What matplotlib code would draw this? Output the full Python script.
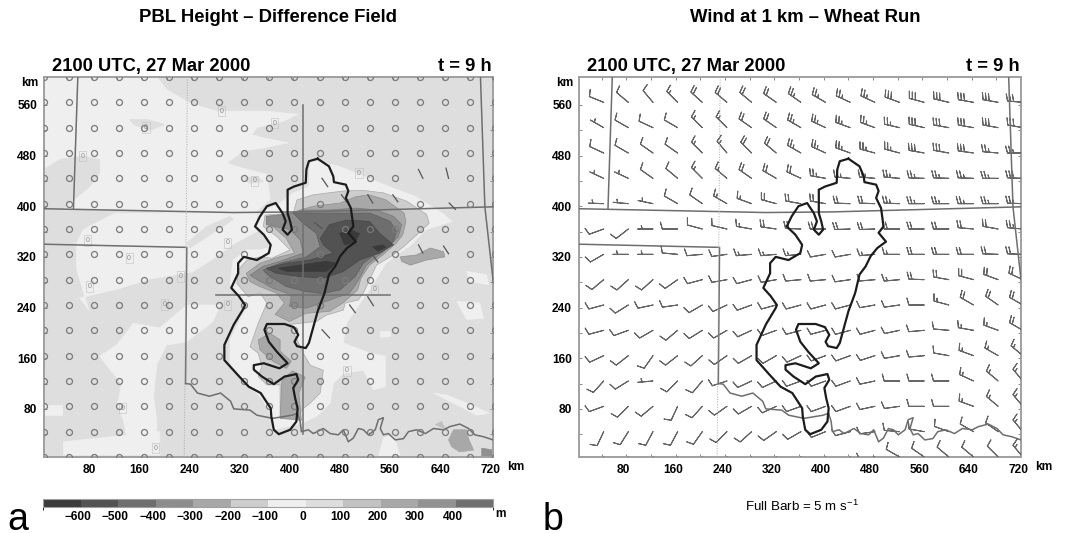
import numpy as np
import matplotlib
matplotlib.use("Agg")
import matplotlib.pyplot as plt
from matplotlib.colors import ListedColormap, BoundaryNorm
from matplotlib.cm import ScalarMappable
from matplotlib.patches import Polygon
from matplotlib.transforms import ScaledTranslation

plt.rcParams["font.family"] = ["Liberation Sans", "DejaVu Sans"]
plt.rcParams["mathtext.default"] = "regular"

W, H = 1069, 533

# map outlines, km
wheat = [(440,475),(458,463),(465,447),(466,438),(485,434),(489,424),(485,413),(493,397),(497,368),
         (489,358),(501,344),(487,334),(476,321),(468,305),(458,292),(451,263),(440,234),(426,184),
         (421,176),(407,179),(403,186),(409,197),(402,209),(387,214),(359,214),(355,205),(362,186),
         (375,170),(392,152),(379,144),(354,152),(338,149),(338,142),(351,131),(370,119),(387,131),
         (406,135),(409,126),(401,113),(404,97),(408,81),(406,60),(396,47),(378,40),(370,47),(366,68),
         (365,81),(349,105),(330,115),(312,134),(291,157),(291,181),(306,213),(322,239),(324,244),
         (314,258),(302,271),(313,294),(313,310),(322,320),(343,315),(362,326),(365,339),(354,355),
         (340,368),(348,384),(359,400),(373,405),(384,389),(389,376),(384,363),(392,355),(399,363),
         (396,376),(392,389),(392,426),(402,431),(421,437),(422,458),(426,471),(440,475)]
kansas_line = [(3,396),(306,390),(414,391),(720,399)]
colorado_line = [(57,604),(50,396)]
panhandle_line = [(3,340),(231,335),(229,120)]
red_river = [(229,120),(237,119),(248,105),(267,100),(285,105),(301,92),(306,80),(332,78),(343,70),
             (368,65),(399,70),(408,73),(412,60),(414,44),(425,47),(433,41),(449,49),(460,41),(473,39),
             (481,47),(489,28),(497,34),(505,49),(513,47),(521,39),(532,47),(537,63),(545,66),(540,49),
             (545,39),(553,41),(564,31),(577,33),(585,44),(598,47),(612,41),(625,49),(641,47),(651,52),
             (667,56),(681,49),(691,39),(705,36),(720,31)]
east_line = [(700,604),(707,399),(720,284)]
dotted_line = [(232,604),(227,4)]
a_vertical = [(416,560),(416,41)]
a_horizontal = [(278,260),(556,260)]

# shaded areas of the difference field: level colour -> outlines in km
light_areas = [
    [(3,604),(183,604),(199,584),(236,563),(279,550),(359,550),(409,545),(385,534),(343,524),(335,513),
     (353,508),(393,500),(353,492),(321,487),(295,468),(321,460),(359,450),(364,410),(343,392),(252,389),
     (119,393),(3,396)],
    [(116,389),(343,389),(343,360),(305,340),(270,315),(240,296),(172,285),(124,270),(60,255),(75,235),
     (55,300),(55,342),(66,363)],
    [(92,163),(119,181),(146,215),(188,208),(231,244),(284,244),(273,218),(231,186),(199,181),(183,150),
     (178,100),(183,62),(183,20),(135,35),(130,62),(120,85),(127,120),(110,140)],
    [(34,28),(188,44),(188,7),(34,7)],
    [(3,86),(31,86),(31,70),(3,70)],
    [(625,105),(646,102),(678,89),(715,73),(694,70),(667,84)],
    [(662,250),(699,247),(705,223),(678,221)],
    [(678,297),(710,292),(713,276),(683,281)],
    [(545,34),(561,39),(572,4),(537,4)],
    [(540,202),(556,202),(556,194),(540,193)],
    [(427,473),(475,463),(507,450),(554,431),(597,415),(639,389),(655,376),(613,363),(586,336),(570,326),
     (549,310),(536,289),(523,268),(508,247),(486,215),(481,184),(524,168),(548,163),(548,115),(529,110),
     (513,141),(481,136),(465,120),(460,89),(438,68),(414,57),(369,47),(369,62),(353,94),(332,115),
     (300,152),(300,189),(319,226),(329,244),(311,257),(300,278),(305,315),(327,331),(348,331),(369,336),
     (359,352),(345,368),(345,389),(380,405),(401,421),(427,431)],
]
gray_areas = [
    [(3,458),(29,474),(66,479),(92,474),(92,452),(76,431),(50,410),(34,396),(3,396)],
    [(140,537),(167,537),(196,529),(172,520),(146,529)],
    [(319,445),(343,447),(353,439),(332,436)],
    [(231,342),(263,368),(300,384),(305,379),(273,358),(236,334)],
]
level_100 = [[(407,410),(433,418),(481,424),(513,425),(545,421),(582,408),(614,387),(618,373),(604,360),
              (593,350),(577,336),(561,323),(534,307),(524,286),(513,263),(505,252),(484,247),(481,236),
              (454,228),(438,218),(393,213),(401,202),(417,168),(428,149),(449,141),(444,105),(428,89),
              (414,78),(412,65),(380,65),(380,99),(380,118),(359,118),(345,131),(351,147),(345,168),
              (332,178),(345,215),(359,247),(348,263),(329,257),(311,278),(313,299),(327,315),(348,320),
              (367,318),(396,331),(375,352),(353,368),(356,386),(401,389)]]
level_200 = [[(406,392),(433,400),(476,405),(501,415),(522,418),(549,410),(578,389),(581,376),(576,355),
              (565,341),(544,323),(523,307),(509,286),(504,268),(480,247),(459,234),(422,231),(395,218),
              (372,229),(387,247),(374,263),(374,263),(348,273),(332,281),(326,294),(348,310),(379,320),
              (403,326),(390,349),(374,363),(358,378)],
             [(345,189),(364,199),(380,189),(380,171),(398,155),(390,144),(369,155),(348,173)],
             [(380,65),(414,62),(410,105),(420,130),(400,140),(383,125)],
             [(572,320),(598,323),(620,334),(641,328),(643,320),(614,315),(588,307),(574,313)]]
level_300 = [[(358,384),(401,389),(414,394),(459,394),(501,397),(534,394),(561,384),(574,371),(569,352),
              (545,328),(518,307),(505,283),(491,263),(454,250),(422,239),(395,242),(398,257),(390,263),
              (369,270),(345,283),(332,291),(353,305),(380,313),(417,326),(412,347),(396,363),(358,371)]]
level_400 = [[(401,389),(481,389),(524,389),(556,376),(566,360),(561,344),(534,326),(513,310),(500,289),
              (476,268),(449,262),(422,265),(390,273),(361,291),(353,299),(380,310),(422,320),(444,336),
              (438,357),(417,373)]]
level_500 = [[(444,349),(459,371),(486,378),(523,376),(539,357),(561,339),(539,326),(507,315),(481,297),
              (449,286),(411,289),(374,294),(358,302),(390,310),(427,315),(465,326),(449,339)]]
level_600 = [[(475,357),(491,363),(507,357),(499,342),(483,339)],
             [(528,336),(544,339),(549,335),(536,329)],
             [(377,302),(411,307),(454,313),(470,310),(454,297),(422,297),(390,297)]]
se_spots = {"#a8a8a8": [[(649,31),(657,47),(678,47),(681,33),(689,15),(667,12),(654,20)]],
            "#bfbfbf": [[(628,55),(638,60),(643,49)]],
            "#909090": [[(702,18),(720,15),(720,4),(702,5)]]}

# colour scale
cbar_levels = [-700,-600,-500,-400,-300,-200,-100,0,100,200,300,400,500]
cbar_colors = ["#3a3a3a","#525252","#6e6e6e","#8c8c8c","#a8a8a8","#cdcdcd","#efefef",
               "#dedede","#c2c2c2","#a8a8a8","#929292","#6f6f6f"]
cbar_ticks = [-600,-500,-400,-300,-200,-100,0,100,200,300,400]

# panel a: calm grid (circles), with a few short staffs in the disturbed area
grid_x = [3 + 40*i for i in range(19)]
grid_y = [4 + 40*j for j in range(16)]
no_circle = {444:[11,12,15,16], 404:[9,10,12,13,14,16], 364:[11], 324:[9,10,12,13,15,16],
             244:[12,13], 204:[11]}
staffs = [(447,444,456,431),(478,418,487,406),(520,418,528,405),(560,418,568,407),(601,458,608,444),
          (645,460,649,444),(650,405,660,395),(435,374,447,365),(488,326,492,310),(528,323,536,312),
          (601,339,608,326),(641,337,649,325),(491,244,500,232),(520,257,529,243),(447,205,459,192)]
label_x = [287,371,166,65,339,506,73,139,296,221,76,195,296,531,487,128,181]
label_y = [550,531,524,479,440,452,346,318,342,289,273,245,244,268,140,81,18]

# panel b: wind barbs, rows from north to south
barb_y = [564,524,484,444,404,364,324,284,244,204,164,124,84,44,4]
barb_x = grid_x[1:]
speed = [
    [5,5,5,7.5,10,10,10,10,12.5,12.5,12.5,12.5,15,15,15,15,15,15],
    [2.5,5,5,5,7.5,7.5,10,10,12.5,12.5,12.5,12.5,12.5,15,15,15,15,15],
    [5,5,5,5,7.5,7.5,10,10,12.5,12.5,12.5,12.5,12.5,15,15,15,12.5,12.5],
    [2.5,2.5,5,5,7.5,7.5,10,10,10,12.5,12.5,12.5,12.5,12.5,12.5,12.5,12.5,15],
    [2.5,2.5,2.5,5,5,7.5,7.5,10,10,10,10,10,12.5,12.5,12.5,12.5,12.5,12.5],
    [5,5,2.5,5,5,5,7.5,10,10,10,10,10,10,10,10,10,10,12.5],
    [5,2.5,2.5,5,5,5,7.5,7.5,7.5,5,5,7.5,7.5,10,10,10,10,10],
    [5,5,5,5,5,5,5,5,5,5,5,5,7.5,10,10,10,10,10],
    [5,5,5,5,5,5,5,5,5,5,5,5,5,5,7.5,10,10,10],
    [5,5,5,5,5,5,5,5,5,5,5,5,5,5,5,7.5,7.5,10],
    [5,5,5,5,5,5,5,5,5,5,5,5,5,5,5,7.5,7.5,7.5],
    [5,5,2.5,5,5,5,5,5,5,5,5,5,5,5,5,7.5,7.5,7.5],
    [5,5,5,5,5,5,5,5,5,5,5,5,5,5,5,7.5,7.5,7.5],
    [5,5,5,5,5,5,5,5,5,5,5,5,5,5,5,5,5,7.5],
    [5,5,5,5,5,5,5,5,5,5,5,5,5,5,5,5,5,7.5],
]
direction = [
    [292,310,320,315,312,310,310,305,305,300,295,295,290,285,283,280,280,275],
    [300,300,295,300,315,315,305,305,300,295,290,290,283,283,280,280,280,280],
    [295,300,305,305,315,320,315,310,300,295,290,285,285,280,280,278,275,270],
    [295,295,305,310,315,310,305,300,295,280,275,275,275,272,272,272,270,272],
    [272,275,282,300,305,300,290,285,280,280,272,272,272,270,270,270,270,272],
    [250,232,270,270,285,283,280,278,272,270,268,268,270,270,270,275,280,275],
    [240,270,270,275,265,262,265,265,265,260,260,265,270,270,270,270,272,272],
    [230,228,228,235,255,260,255,260,265,265,262,265,265,272,280,285,290,295],
    [255,238,258,262,240,245,250,255,255,255,255,260,262,270,285,300,305,300],
    [255,250,240,230,238,240,245,250,255,255,255,255,258,265,275,280,290,300],
    [245,232,215,232,228,235,240,240,245,250,250,252,260,265,280,290,300,310],
    [222,238,265,225,220,252,245,245,250,250,250,258,270,270,270,295,310,320],
    [250,225,230,205,222,235,240,245,250,250,250,258,262,270,270,290,310,320],
    [205,212,208,208,215,225,228,235,240,248,255,262,275,280,290,300,305,320],
    [220,220,220,220,220,220,220,220,225,230,240,260,300,305,310,310,315,320],
]
x_ticks = [80,160,240,320,400,480,560,640,720]
y_ticks = [80,160,240,320,400,480,560]


def make_axes(left, right, top=77, bottom=457):
    ax = fig.add_axes([left/W, 1-bottom/H, (right-left)/W, (bottom-top)/H])
    ax.set_xlim(3, 720)
    ax.set_ylim(4, 604)
    ax.set_xticks(x_ticks)
    ax.set_yticks(y_ticks)
    ax.set_xticks(range(40, 720, 80), minor=True)
    ax.set_yticks(range(40, 600, 80), minor=True)
    ax.tick_params(which="both", direction="in", length=2, width=0.7, color="#888888",
                   top=True, right=True, labelsize=8.6, pad=5)
    shift = ScaledTranslation(-2/72, 0, fig.dpi_scale_trans)
    for t in ax.get_xticklabels():
        t.set_fontweight("bold")
        t.set_transform(t.get_transform() + shift)
    for t in ax.get_yticklabels():
        t.set_fontweight("bold")
    for s in ax.spines.values():
        s.set_color("#a0a0a0")
        s.set_linewidth(1.4)
    # km after the 720 label, on its line
    ax.annotate("km", xy=(1, 0), xycoords="axes fraction", xytext=(10, -7.5), textcoords="offset points",
                fontsize=8.6, fontweight="bold", va="center", ha="left", annotation_clip=False)
    ax.text(-0.013, 1.0, "km", transform=ax.transAxes, fontsize=8.6, fontweight="bold",
            va="top", ha="right")
    ax.text(0.018, 1.006, "2100 UTC, 27 Mar 2000", transform=ax.transAxes, fontsize=13.2,
            fontweight="bold", va="bottom")
    ax.text(0.997, 1.006, "t = 9 h", transform=ax.transAxes, fontsize=13.2,
            fontweight="bold", va="bottom", ha="right")
    return ax


def fill_areas(ax, areas, color, z, edge=None):
    for a in areas:
        ax.add_patch(Polygon(a, closed=True, fc=color, ec=edge or color, lw=0.5, zorder=z))


def line(ax, pts, **kw):
    xs, ys = zip(*pts)
    ax.plot(xs, ys, **kw)


def draw_map(ax):
    style = dict(color="#6e6e6e", lw=1.1, zorder=5)
    line(ax, kansas_line, **style)
    line(ax, colorado_line, **style)
    line(ax, panhandle_line, **style)
    line(ax, red_river, **style)
    line(ax, east_line, **style)
    line(ax, dotted_line, color="#aaaaaa", lw=0.7, ls=":", zorder=5)
    line(ax, wheat, color="#1c1c1c", lw=1.6, zorder=7, solid_joinstyle="round")


fig = plt.figure(figsize=(W/100, H/100), dpi=100)

# panel a
ax_a = make_axes(44, 493)
ax_a.set_facecolor("#dedede")
fill_areas(ax_a, light_areas, "#efefef", 1)
fill_areas(ax_a, gray_areas, "#dedede", 1.5)
fill_areas(ax_a, level_100, "#cdcdcd", 2, "#a9a9a9")
fill_areas(ax_a, level_200, "#a8a8a8", 2.2, "#8f8f8f")
fill_areas(ax_a, level_300, "#8c8c8c", 2.4, "#777777")
fill_areas(ax_a, level_400, "#6e6e6e", 2.6, "#5f5f5f")
fill_areas(ax_a, level_500, "#525252", 2.8, "#474747")
fill_areas(ax_a, level_600, "#3a3a3a", 3)
for c, areas in se_spots.items():
    fill_areas(ax_a, areas, c, 2)
draw_map(ax_a)
line(ax_a, a_vertical, color="#6e6e6e", lw=1.1, zorder=5)
line(ax_a, a_horizontal, color="#6e6e6e", lw=1.1, zorder=5)

cx, cy = [], []
for y in grid_y:
    skip = no_circle.get(y, [])
    for i, x in enumerate(grid_x):
        if i not in skip:
            cx.append(x)
            cy.append(y)
ax_a.plot(cx, cy, ls="none", marker="o", ms=4.3, mfc="none", mec="#7a7a7a", mew=0.9, zorder=6)
for x0, y0, x1, y1 in staffs:
    ax_a.plot([x0, x1], [y0, y1], color="#555555", lw=0.9, zorder=6)
for x, y in zip(label_x, label_y):
    ax_a.text(x, y, "0", fontsize=5, color="#8a8a8a", ha="center", va="center", zorder=4,
              bbox=dict(fc="none", ec="#c0c0c0", lw=0.4, pad=1.2))

# panel b
ax_b = make_axes(579, 1021)
draw_map(ax_b)
bx, by = np.meshgrid(barb_x, barb_y)
theta = np.deg2rad(np.array(direction, dtype=float))
spd = np.array(speed, dtype=float)
ax_b.barbs(bx, by, -spd*np.sin(theta), -spd*np.cos(theta), length=4.7, pivot="tip",
           barb_increments=dict(half=2.5, full=5, flag=25),
           sizes=dict(height=0.45, spacing=0.2, width=0.25, emptybarb=0.0),
           color="#666666", linewidth=0.75, zorder=4)

# colour bar
cax = fig.add_axes([43/W, 1-507/H, 450/W, 8/H])
cmap = ListedColormap(cbar_colors)
norm = BoundaryNorm(cbar_levels, cmap.N)
cb = fig.colorbar(ScalarMappable(norm=norm, cmap=cmap), cax=cax, orientation="horizontal",
                  ticks=cbar_ticks, spacing="proportional")
cb.outline.set_edgecolor("#a0a0a0")
cb.outline.set_linewidth(0.8)
cax.tick_params(length=0, labelsize=8.6, pad=3)
cax.set_xticklabels([("\u2212%d" % -v) if v < 0 else str(v) for v in cbar_ticks], fontweight="bold")
for t in cax.get_xticklabels():
    t.set_transform(t.get_transform() + ScaledTranslation(-2/72, 0, fig.dpi_scale_trans))

fig.text(500/W, 1-514/H, "m", fontsize=8.6, fontweight="bold", ha="center", va="center")
fig.text(268/W, 1-17/H, "PBL Height \u2013 Difference Field", fontsize=13.3, fontweight="bold",
         ha="center", va="center")
fig.text(805/W, 1-17/H, "Wind at 1 km \u2013 Wheat Run", fontsize=13.3, fontweight="bold",
         ha="center", va="center")
fig.text(802/W, 1-506/H, "Full Barb = 5 m s$^{-1}$", fontsize=9.6, ha="center", va="center")
fig.text(7/W, 1-530/H, "a", fontsize=27, ha="left", va="baseline")
fig.text(543/W, 1-530/H, "b", fontsize=27, ha="left", va="baseline")

fig.savefig("out.png", dpi=100)
